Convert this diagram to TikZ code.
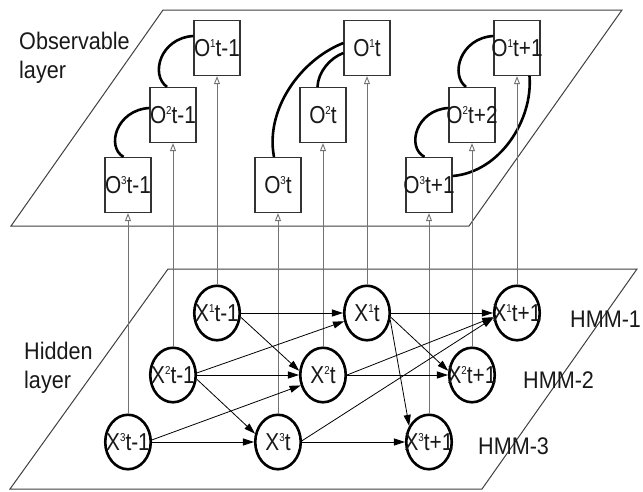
\documentclass[tikz,border=0pt]{standalone}
\usepackage{fontspec}
\setmainfont{Liberation Sans}[FakeStretch=0.85]
\newfontfamily\lblfont{Liberation Sans}[FakeStretch=0.9]
\usetikzlibrary{arrows.meta,shapes.geometric}
\newcommand{\mysup}[1]{\raisebox{9.5pt}{\fontsize{11.5pt}{11.5pt}\selectfont #1}}
\begin{document}
\begin{tikzpicture}[x=1pt,y=-1pt,
  obs/.style={draw=black!80, line width=1.2pt, rectangle, minimum width=46pt, minimum height=55pt, inner sep=0pt, font=\fontsize{24.5pt}{24.5pt}\selectfont, text=black!90},
  hid/.style={draw=black, line width=2.6pt, ellipse, minimum width=45.5pt, minimum height=54.5pt, inner sep=0pt, font=\fontsize{24.5pt}{24.5pt}\selectfont, text=black!90},
  emit/.style={draw=black!55, line width=0.9pt, -{Triangle[open,length=8pt,width=6pt]}},
  trans/.style={draw=black, line width=0.8pt, -{Triangle[length=11pt,width=7pt]}},
  corr/.style={draw=black, line width=2.6pt},
  plane/.style={draw=black!75, line width=1pt},
  lbl/.style={font=\lblfont\fontsize{24pt}{29pt}\selectfont, text=black!90, inner sep=0pt, align=left}]
\useasboundingbox (0,0) rectangle (643,491);
\fill[white] (0,0) rectangle (643,491);
% planes
\draw[plane] (163,10) -- (622,10) -- (469,226) -- (11,226) -- cycle;
\draw[plane] (168,269) -- (637,269) -- (482,489) -- (10,489) -- cycle;
% observable nodes
\node[obs] (O1a) at (217,48) {\makebox[0pt]{O\mysup{1}t-1}};
\node[obs] (O2a) at (173,115) {\makebox[0pt]{O\mysup{2}t-1}};
\node[obs] (O3a) at (128,185) {\makebox[0pt]{O\mysup{3}t-1}};
\node[obs] (O1b) at (367,48) {\makebox[0pt]{O\mysup{1}t}};
\node[obs] (O2b) at (323,115) {\makebox[0pt]{O\mysup{2}t}};
\node[obs] (O3b) at (278,185) {\makebox[0pt]{O\mysup{3}t}};
\node[obs] (O1c) at (517,48) {\makebox[0pt]{O\mysup{1}t+1}};
\node[obs] (O2c) at (472,115) {\makebox[0pt]{O\mysup{2}t+2}};
\node[obs] (O3c) at (429,185) {\makebox[0pt]{O\mysup{3}t+1}};
% hidden nodes
\node[hid] (X1a) at (217,313) {\makebox[0pt]{X\mysup{1}t-1}};
\node[hid] (X2a) at (173,375) {\makebox[0pt]{X\mysup{2}t-1}};
\node[hid] (X3a) at (128,442) {\makebox[0pt]{X\mysup{3}t-1}};
\node[hid] (X1b) at (367,313) {\makebox[0pt]{X\mysup{1}t}};
\node[hid] (X2b) at (323,375) {\makebox[0pt]{X\mysup{2}t}};
\node[hid] (X3b) at (278,442) {\makebox[0pt]{X\mysup{3}t}};
\node[hid] (X1c) at (517,313) {\makebox[0pt]{X\mysup{1}t+1}};
\node[hid] (X2c) at (472,375) {\makebox[0pt]{X\mysup{2}t+1}};
\node[hid] (X3c) at (429,442) {\makebox[0pt]{X\mysup{3}t+1}};
% correlation curves
\draw[corr] ([yshift=12pt]O1a.west) .. controls (160,38) and (150,75) .. ([xshift=-6pt]O2a.north);
\draw[corr] ([yshift=7pt]O2a.west) .. controls (116,110) and (106,147) .. ([xshift=-4.5pt]O3a.north);
\draw[corr] ([yshift=5pt]O1b.west) .. controls (300,60) and (265,110) .. ([xshift=-4pt]O3b.north);
\draw[corr] ([yshift=-5pt]O1b.west) .. controls (330,58) and (318,72) .. ([xshift=-5.5pt]O2b.north);
\draw[corr] ([yshift=12pt]O1c.west) .. controls (460,38) and (450,75) .. ([xshift=-6pt]O2c.north);
\draw[corr] ([yshift=7pt]O2c.west) .. controls (416,110) and (406,147) .. ([xshift=-4.5pt]O3c.north);
\draw[corr] ([xshift=12.5pt]O1c.south) .. controls (533,120) and (500,172) .. ([yshift=9pt]O3c.east);
% emissions
\foreach \r in {1,2,3}{\foreach \c in {a,b,c}{\draw[emit] (X\r\c) -- (O\r\c);}}
% transitions
\draw[trans] (X1a) -- (X1b);
\draw[trans] (X1a.-10) -- (X2b.170);
\draw[trans] (X2a.5) -- (X1b.200);
\draw[trans] (X2a) -- (X2b);
\draw[trans] (X2a.-10) -- (X3b.160);
\draw[trans] (X3a.5) -- (X2b.205);
\draw[trans] (X3a) -- (X3b);
\draw[trans] (X1b) -- (X1c);
\draw[trans] (X1b.-10) -- (X2c.170);
\draw[trans] (X1b.-17) -- (X3c.141);
\draw[trans] (X2b.0) -- (X1c.190);
\draw[trans] (X2b) -- (X2c);
\draw[trans] (X3b.3) -- (X1c.192);
\draw[trans] (X3b) -- (X3c);
% labels
\node[lbl, anchor=base west] (obsl) at (19,78) {Observable\\layer};
\node[lbl, anchor=base west] (hidl) at (24,388) {Hidden\\layer};
\node[lbl, anchor=base west] (h1) at (570,327) {HMM-1};
\node[lbl, anchor=base west] (h2) at (523,388) {HMM-2};
\node[lbl, anchor=base west] (h3) at (478,454) {HMM-3};
\end{tikzpicture}
\end{document}
